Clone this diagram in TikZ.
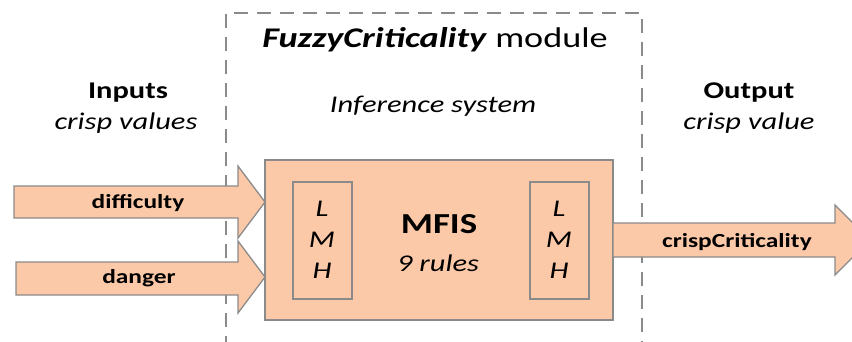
\documentclass[tikz,border=0pt]{standalone}
\usepackage{fontspec}
\setmainfont[FakeStretch=1.27]{Carlito}
\definecolor{peach}{HTML}{FCC9A8}
\definecolor{edge}{HTML}{8A8A8A}
\begin{document}
\begin{tikzpicture}[x=1pt,y=-1pt,
  arrowbody/.style={fill=peach,draw=edge,line width=1.3pt,line join=miter},
  boxstyle/.style={fill=peach,draw=edge,line width=1.3pt},
  innerbox/.style={draw=edge,line width=1.3pt},
  lbl/.style={inner sep=0pt,anchor=base},
  modframe/.style={draw=edge,line width=1.3pt,dash pattern=on 14pt off 9pt}]
\useasboundingbox (0,0) rectangle (852,341);
% module frame
\draw[modframe] (226,350) -- (226,13) -- (642,13) -- (642,350);
\node[lbl,font=\fontsize{28.5}{32}\selectfont] (title) at (435,47) {\textbf{\textit{FuzzyCriticality}} module};
\node[lbl,font=\fontsize{24}{28}\selectfont\itshape] (inf) at (433,112) {Inference system};
% inputs / output headings
\node[lbl,font=\fontsize{24}{28}\selectfont\bfseries] (inh) at (128,98) {Inputs};
\node[lbl,font=\fontsize{24}{28}\selectfont\itshape] (inc) at (126,129) {crisp values};
\node[lbl,font=\fontsize{24}{28}\selectfont\bfseries] (outh) at (749,98) {Output};
\node[lbl,font=\fontsize{24}{28}\selectfont\itshape] (outc) at (749,129) {crisp value};
% main box
\draw[boxstyle] (265,160) rectangle (613,320);
\draw[innerbox] (293,182) rectangle (352,299);
\draw[innerbox] (530,182) rectangle (589,299);
\foreach \xx/\nm in {322/a,559/b}{
  \node[lbl,font=\fontsize{24}{28}\selectfont\itshape] (L\nm) at (\xx,216) {L};
  \node[lbl,font=\fontsize{24}{28}\selectfont\itshape] (M\nm) at (\xx,247) {M};
  \node[lbl,font=\fontsize{24}{28}\selectfont\itshape] (H\nm) at (\xx,278) {H};
}
\node[lbl,font=\fontsize{29}{34}\selectfont\bfseries] (mfis) at (439,233) {MFIS};
\node[lbl,font=\fontsize{24}{28}\selectfont\itshape] (rules) at (438,271) {9 rules};
% input arrows
\draw[arrowbody] (14,186) -- (238,186) -- (238,166) -- (265,202) -- (238,238) -- (238,218) -- (14,218) -- cycle;
\node[lbl,font=\fontsize{20}{24}\selectfont\bfseries] (diff) at (138,208) {difficulty};
\draw[arrowbody] (16,262) -- (238,262) -- (238,241) -- (265,277) -- (238,313) -- (238,295) -- (16,295) -- cycle;
\node[lbl,font=\fontsize{20}{24}\selectfont\bfseries] (dang) at (139,283) {danger};
% output arrow
\draw[arrowbody] (613,223) -- (835,223) -- (835,205) -- (870,240) -- (835,275) -- (835,257) -- (613,257) -- cycle;
\node[lbl,font=\fontsize{20}{24}\selectfont\bfseries] (crisp) at (737,247) {crispCriticality};
\end{tikzpicture}
\end{document}
